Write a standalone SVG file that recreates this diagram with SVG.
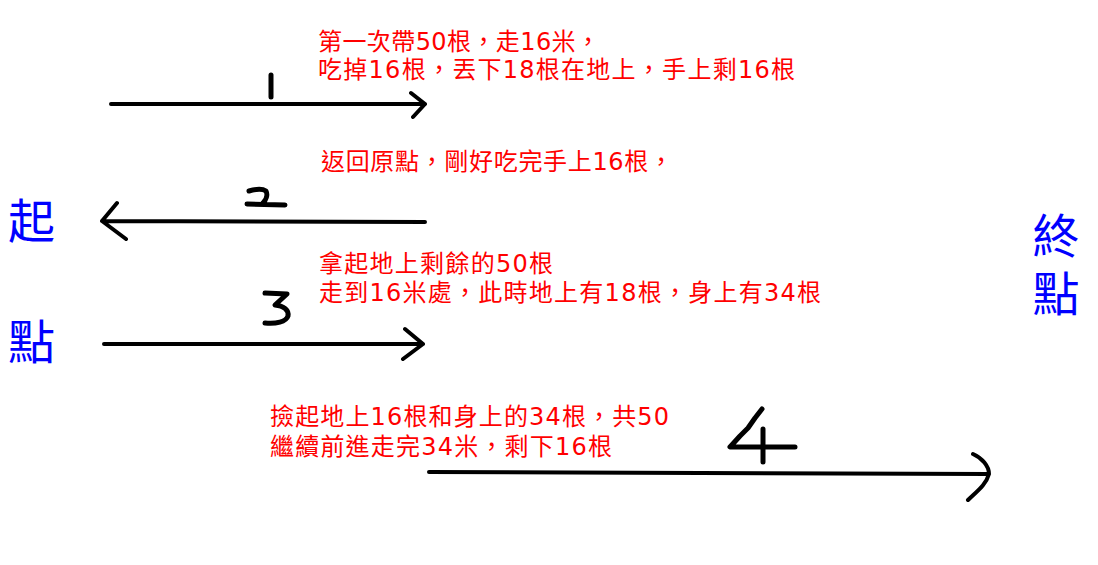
<svg xmlns="http://www.w3.org/2000/svg" width="1098" height="565" viewBox="0 0 1098 565">
<style>
.note{font-family:"DejaVu Sans","Noto Sans CJK TC",sans-serif;font-size:24px;fill:#f00;}
.place{font-family:"Noto Sans CJK TC","Noto Sans CJK SC",sans-serif;font-size:47px;fill:#00f;}
.ink{fill:none;stroke:#000;stroke-width:4;stroke-linecap:round;stroke-linejoin:round;}
.num{fill:none;stroke:#000;stroke-width:5;stroke-linecap:round;stroke-linejoin:round;}
</style>
<rect width="1098" height="565" fill="#fff"/>
<g id="start">
<text class="place" x="8" y="238">起</text>
<text class="place" x="8" y="359">點</text>
</g>
<g id="end">
<text class="place" x="1056" y="212" style="writing-mode:vertical-rl;letter-spacing:11px">終點</text>
</g>
<g id="step1">
<text class="note" x="318" y="50" textLength="282" lengthAdjust="spacing">第一次帶50根，走16米，</text>
<text class="note" x="318" y="78" textLength="477" lengthAdjust="spacing">吃掉16根，丟下18根在地上，手上剩16根</text>
<path class="num" d="M271 75 L271 97"/>
</g>
<g id="step2">
<text class="note" x="321" y="170" textLength="352" lengthAdjust="spacing">返回原點，剛好吃完手上16根，</text>
<path class="num" d="M249 191 C256 189 263 189 266 191 C268 195 266 200 263 203 M247 204 L285 205"/>
</g>
<g id="step3">
<text class="note" x="319" y="272" textLength="234" lengthAdjust="spacing">拿起地上剩餘的50根</text>
<text class="note" x="319" y="301" textLength="502" lengthAdjust="spacing">走到16米處，此時地上有18根，身上有34根</text>
<path class="num" d="M265 293 L287 294 L275 305 C284 306 289 310 288 316 C286 322 276 324 265 323"/>
</g>
<g id="step4">
<text class="note" x="270" y="425" textLength="399" lengthAdjust="spacing">撿起地上16根和身上的34根，共50</text>
<text class="note" x="270" y="455" textLength="342" lengthAdjust="spacing">繼續前進走完34米，剩下16根</text>
<path class="num" d="M762 409 L755 418 L748 428 L740 436 L730 447 L795 447 M763 429 L763 462"/>
</g>
<g id="connectors">
<path class="ink" d="M111 104 L425 104 M411 93 L425 104 L413 117"/>
<path class="ink" d="M425 222 L102 221 M117 203 L102 221 L126 239"/>
<path class="ink" d="M104 344 L423 344 M405 329 L423 344 L403 359"/>
<path class="ink" d="M429 472 L989 474 M973 454 C982 458 989 466 989 474 C986 485 976 492 968 500"/>
</g>
</svg>
